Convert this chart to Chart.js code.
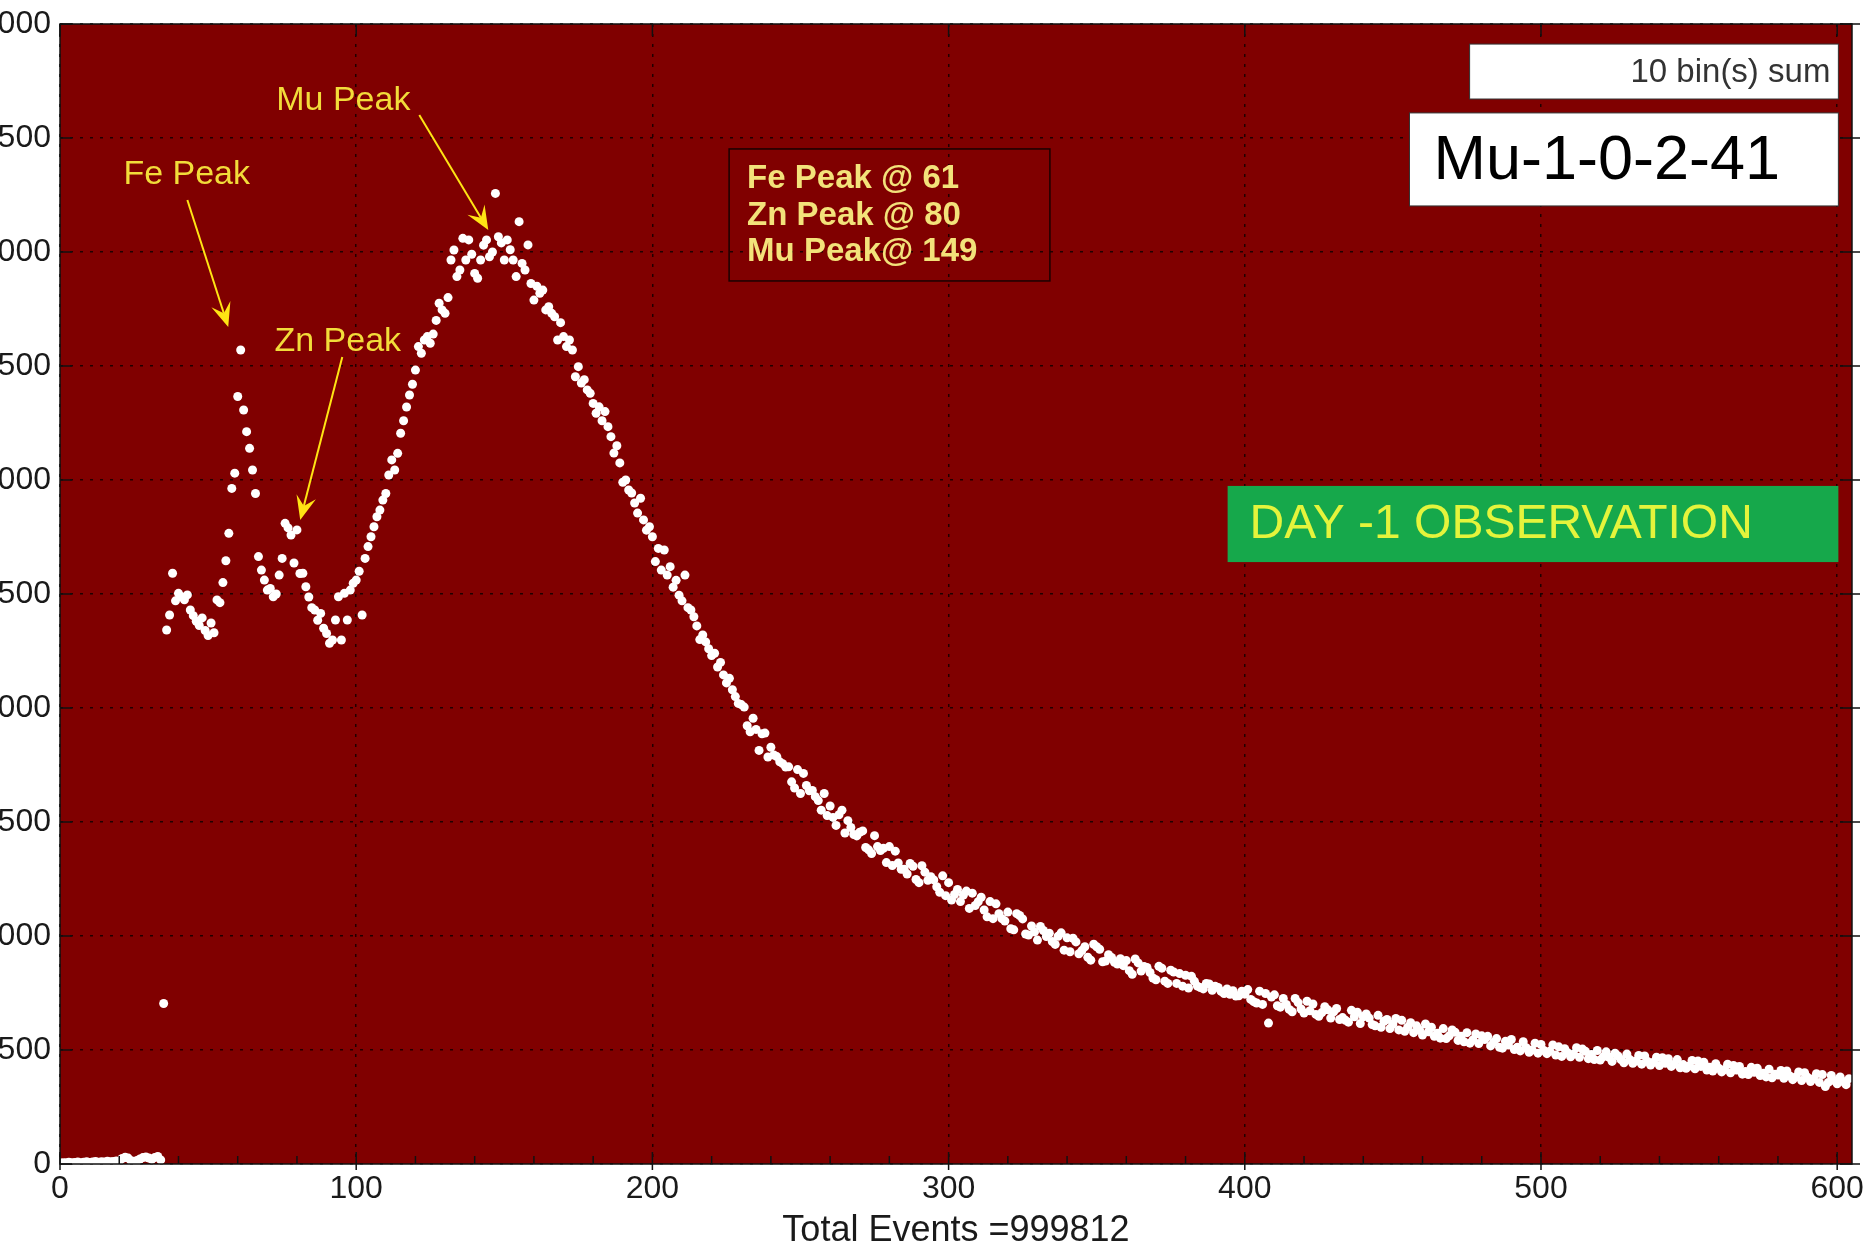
<!DOCTYPE html>
<html>
<head>
<meta charset="utf-8">
<script src="https://cdn.jsdelivr.net/npm/chart.js@4.4.0/dist/chart.umd.min.js"></script>
<style>
  html, body { margin: 0; padding: 0; background: #fff; overflow: hidden; }
  #wrap { position: relative; width: 1866px; height: 1251px; }
</style>
</head>
<body>
<div id="wrap"><canvas id="spectrum" width="1866" height="1251"></canvas></div>
<script>
// counts per channel (10 bins summed)
const floorCounts = [4, 6, 5, 8, 6, 7, 9, 6, 8, 10, 7, 9, 11, 8, 10, 9, 12, 10, 11, 13,
  12, 24, 30, 26, 14, 12, 15, 22, 28, 31, 26, 20, 29, 33, 18]; // ch 0-34
const feZnCounts = [
  704, 2342, 2408, 2591, 2470, 2503, 2488, 2475, 2496, 2430,
  2405, 2380, 2362, 2395, 2340, 2318, 2373, 2330, 2474, 2462,
  2550, 2646, 2766, 2963, 3030, 3366, 3570, 3307, 3212, 3139,
  3044, 2941, 2664, 2605, 2561, 2517, 2524, 2488, 2500, 2583,
  2656, 2810, 2790, 2759, 2636, 2781, 2590, 2591, 2532, 2487,
  2440, 2430, 2385, 2415, 2350, 2327, 2284, 2298, 2386, 2488,
  2298, 2503, 2386, 2517, 2547]; // ch 35-99
const muCounts = [
  2561, 2600, 2408, 2656, 2708, 2751, 2795, 2839, 2868, 2912,
  2941, 3022, 3088, 3044, 3117, 3205, 3260, 3320, 3373, 3420,
  3482, 3585, 3556, 3614, 3629, 3600, 3640, 3700, 3775, 3746,
  3731, 3800, 3965, 4009, 3892, 3921, 4060, 3965, 4053, 3990,
  3906, 3885, 3965, 4030, 4053, 3979, 4000, 4257, 4067, 4040,
  3965, 4053, 4010, 3965, 3892, 4133, 3950, 3921, 4031, 3862,
  3789, 3850, 3819, 3833, 3746, 3760, 3731, 3716, 3614, 3690,
  3629, 3585, 3614, 3570, 3453, 3497, 3425, 3440, 3395, 3380,
  3336, 3293, 3321, 3260, 3300, 3234, 3190, 3118, 3150, 3075,
  2990, 3000, 2956, 2943, 2899, 2855, 2920, 2825, 2780, 2795,
  2751, 2642, 2700, 2605, 2693, 2583, 2620, 2530, 2560, 2495,
  2470, 2583, 2440, 2430, 2400, 2360, 2300, 2320, 2290, 2260,
  2230, 2240, 2180, 2200, 2145, 2110, 2130, 2080, 2050, 2020]; // ch 100-229
const tailCounts = [
  2015, 2004, 1922, 1896, 1955, 1906, 1814, 1887, 1890, 1785,
  1828, 1794, 1787, 1764, 1756, 1741, 1742, 1676, 1649, 1730,
  1625, 1713, 1660, 1637, 1638, 1611, 1594, 1552, 1625, 1528,
  1570, 1520, 1485, 1532, 1552, 1452, 1506, 1476, 1445, 1439,
  1455, 1461, 1388, 1378, 1362, 1440, 1392, 1375, 1385, 1322,
  1392, 1309, 1372, 1320, 1293, 1293, 1272, 1318, 1306, 1248,
  1234, 1308, 1280, 1244, 1260, 1246, 1216, 1192, 1264, 1177,
  1234, 1158, 1182, 1204, 1151, 1180, 1197, 1121, 1188, 1134,
  1150, 1170, 1114, 1084, 1151, 1076, 1141, 1098, 1076, 1066,
  1105, 1032, 1027, 1098, 1090, 1075, 1009, 1004, 1044, 1018,
  982, 1042, 1024, 998, 1012, 976, 963, 999, 1014, 938,
  992, 931, 990, 974, 922, 936, 953, 907, 894, 964,
  953, 942, 887, 890, 918, 906, 885, 877, 900, 870,
  892, 848, 832, 899, 882, 846, 866, 862, 840, 816,
  808, 867, 859, 802, 792, 850, 842, 792, 835, 780,
  828, 772, 823, 801, 780, 774, 768, 792, 790, 762,
  780, 774, 757, 748, 768, 744, 760, 737, 738, 758]; // ch 230-399
const farTailCounts = [
  745, 765, 722, 712, 706, 758, 700, 748, 618, 732,
  742, 694, 688, 726, 700, 678, 668, 726, 708, 680,
  662, 714, 672, 702, 656, 648, 664, 690, 676, 640,
  668, 682, 634, 642, 630, 622, 674, 646, 666, 616,
  646, 658, 640, 612, 606, 652, 600, 626, 634, 594,
  614, 638, 588, 630, 582, 600, 620, 576, 606, 588,
  566, 614, 580, 600, 560, 574, 552, 594, 550, 562,
  588, 578, 542, 560, 536, 576, 530, 544, 570, 528,
  562, 546, 560, 518, 534, 550, 512, 508, 538, 522,
  546, 502, 512, 496, 536, 510, 490, 500, 530, 486,
  524, 498, 484, 494, 522, 478, 514, 472, 506, 488,
  470, 482, 510, 468, 504, 494, 462, 480, 458, 498,
  456, 470, 492, 468, 450, 486, 474, 458, 444, 482,
  458, 442, 452, 476, 438, 474, 450, 434, 446, 468,
  432, 466, 442, 462, 428, 438, 458, 422, 436, 420,
  430, 454, 418, 452, 428, 446, 412, 424, 408, 440,
  420, 404, 414, 438, 400, 432, 412, 428, 394, 406,
  392, 424, 402, 420, 388, 398, 382, 416, 378, 394,
  390, 410, 376, 408, 386, 370, 382, 404, 366, 400,
  380, 362, 374, 396, 358, 392, 340, 358, 388, 366,
  352, 382, 362, 348, 374]; // ch 400-604

const xTicks = [0, 100, 200, 300, 400, 500, 600];
const yTicks = [0, 500, 1000, 1500, 2000, 2500, 3000, 3500, 4000, 4500, 5000];
const xTitle = 'Total Events =999812';
const statsLines = ['Fe Peak @ 61', 'Zn Peak @ 80', 'Mu Peak@ 149'];
const binLabel = '10 bin(s) sum';
const runLabel = 'Mu-1-0-2-41';
const dayLabel = 'DAY -1 OBSERVATION';

// annotation placement in data units
const peakNotes = [
  { text: 'Mu Peak', at: [73, 4662], tail: [121.3, 4601], tip: [144.6, 4096] },
  { text: 'Fe Peak', at: [21.4, 4338], tail: [43.0, 4228], tip: [56.8, 3671] },
  { text: 'Zn Peak', at: [72.4, 3605], tail: [95.3, 3540], tip: [81.1, 2825] }
];
const boxes = {
  bins: { x0: 475.9, x1: 600.4, y0: 4912, y1: 4671 },
  run: { x0: 455.6, x1: 600.4, y0: 4610, y1: 4202 },
  stats: { x0: 225.9, x1: 334.2, y0: 4452, y1: 3873 },
  day: { x0: 394.2, x1: 600.4, y0: 2974, y1: 2640 }
};

const FONT = "'Liberation Sans', Arial, sans-serif";
const counts = [].concat(floorCounts, feZnCounts, muCounts, tailCounts, farTailCounts);
const points = counts.map((c, ch) => ({ x: ch, y: c }));

const plotBg = {
  id: 'plotBg',
  beforeDraw(chart) {
    const a = chart.chartArea, ctx = chart.ctx;
    ctx.save();
    ctx.fillStyle = '#800000';
    ctx.fillRect(a.left, a.top, a.right - a.left, a.bottom - a.top);
    ctx.restore();
  }
};

function arrow(ctx, x1, y1, x2, y2) {
  const ang = Math.atan2(y2 - y1, x2 - x1);
  const head = 24, wing = 10;
  const bx = x2 - Math.cos(ang) * head, by = y2 - Math.sin(ang) * head;
  const nx = x2 - Math.cos(ang) * head * 0.6, ny = y2 - Math.sin(ang) * head * 0.6;
  ctx.beginPath();
  ctx.moveTo(x1, y1);
  ctx.lineTo(nx, ny);
  ctx.stroke();
  ctx.beginPath();
  ctx.moveTo(x2, y2);
  ctx.lineTo(bx - Math.sin(ang) * wing, by + Math.cos(ang) * wing);
  ctx.lineTo(nx, ny);
  ctx.lineTo(bx + Math.sin(ang) * wing, by - Math.cos(ang) * wing);
  ctx.closePath();
  ctx.fill();
}

const overlay = {
  id: 'overlay',
  afterDatasetsDraw(chart) {
    const ctx = chart.ctx, a = chart.chartArea;
    const xs = chart.scales.x, ys = chart.scales.y;
    const px = v => xs.getPixelForValue(v), py = v => ys.getPixelForValue(v);
    ctx.save();

    // frame and ticks
    ctx.strokeStyle = '#111';
    ctx.lineWidth = 1.5;
    ctx.strokeRect(a.left, a.top, a.right - a.left, a.bottom - a.top);
    ctx.beginPath();
    xTicks.forEach(v => {
      const x = px(v);
      ctx.moveTo(x, a.bottom + 6); ctx.lineTo(x, a.bottom - 12);
      ctx.moveTo(x, a.top); ctx.lineTo(x, a.top + 12);
    });
    for (let v = 20; v < 605; v += 20) {
      const x = px(v);
      ctx.moveTo(x, a.bottom); ctx.lineTo(x, a.bottom - 8);
    }
    yTicks.forEach(v => {
      const y = py(v);
      ctx.moveTo(a.left, y); ctx.lineTo(a.left + 12, y);
      ctx.moveTo(a.right + 8, y); ctx.lineTo(a.right - 12, y);
    });
    ctx.stroke();

    // white legend boxes
    const rect = b => [px(b.x0), py(b.y0), px(b.x1) - px(b.x0), py(b.y1) - py(b.y0)];
    ctx.fillStyle = '#fff';
    ctx.strokeStyle = '#333';
    ctx.lineWidth = 1;
    [boxes.bins, boxes.run].forEach(b => {
      const r = rect(b);
      ctx.fillRect(...r);
      ctx.strokeRect(...r);
    });
    ctx.fillStyle = '#333';
    ctx.font = `33px ${FONT}`;
    ctx.textAlign = 'right';
    ctx.textBaseline = 'middle';
    ctx.fillText(binLabel, px(boxes.bins.x1) - 8, (py(boxes.bins.y0) + py(boxes.bins.y1)) / 2 + 1);
    ctx.fillStyle = '#000';
    ctx.font = `63px ${FONT}`;
    ctx.textAlign = 'left';
    ctx.fillText(runLabel, px(boxes.run.x0) + 24, (py(boxes.run.y0) + py(boxes.run.y1)) / 2 + 2);

    // peak statistics box
    const sr = rect(boxes.stats);
    ctx.strokeStyle = '#1a0000';
    ctx.lineWidth = 1.5;
    ctx.strokeRect(...sr);
    ctx.fillStyle = '#f3e27a';
    ctx.font = `bold 33px ${FONT}`;
    statsLines.forEach((t, i) => ctx.fillText(t, sr[0] + 18, sr[1] + 30 + i * 36.5));

    // green observation banner
    const dr = rect(boxes.day);
    ctx.fillStyle = '#16a84b';
    ctx.fillRect(...dr);
    ctx.fillStyle = '#e4f43c';
    ctx.font = `48px ${FONT}`;
    ctx.fillText(dayLabel, dr[0] + 22, dr[1] + dr[3] / 2 + 1);

    // peak labels and arrows
    ctx.font = `34px ${FONT}`;
    peakNotes.forEach(n => {
      ctx.fillStyle = '#f2dc3a';
      ctx.fillText(n.text, px(n.at[0]), py(n.at[1]));
      ctx.strokeStyle = '#ffe414';
      ctx.fillStyle = '#ffe414';
      ctx.lineWidth = 2;
      arrow(ctx, px(n.tail[0]), py(n.tail[1]), px(n.tip[0]), py(n.tip[1]));
    });
    ctx.restore();
  }
};

const tickFont = { family: FONT, size: 32 };

new Chart(document.getElementById('spectrum'), {
  type: 'scatter',
  data: {
    datasets: [{
      label: 'counts',
      data: points,
      pointRadius: 4.5,
      pointHoverRadius: 4.5,
      pointBorderWidth: 0,
      pointBackgroundColor: '#ffffff',
      clip: 0
    }]
  },
  options: {
    responsive: false,
    animation: false,
    layout: { padding: { top: 24, right: 14, left: 0, bottom: 0 } },
    plugins: { legend: { display: false }, tooltip: { enabled: false } },
    scales: {
      x: {
        type: 'linear',
        min: 0,
        max: 605,
        afterBuildTicks: s => { s.ticks = xTicks.map(v => ({ value: v })); },
        afterFit: s => { s.height = 87; s.paddingLeft = 0; s.paddingRight = 0; },
        ticks: { font: tickFont, color: '#1a1a1a', padding: 6, maxRotation: 0 },
        grid: { color: 'rgba(0,0,0,0.75)', lineWidth: 1.5, drawTicks: false },
        border: { display: false, dash: [3, 7] },
        title: {
          display: true,
          text: xTitle,
          color: '#1a1a1a',
          font: { family: FONT, size: 36, lineHeight: 1.1 },
          padding: { top: 0, bottom: 0 }
        }
      },
      y: {
        min: 0,
        max: 5000,
        afterBuildTicks: s => { s.ticks = yTicks.map(v => ({ value: v })); },
        afterFit: s => { s.width = 60; s.paddingTop = 0; s.paddingBottom = 0; },
        ticks: { font: tickFont, color: '#1a1a1a', padding: 9 },
        grid: { color: 'rgba(0,0,0,0.75)', lineWidth: 1.5, drawTicks: false },
        border: { display: false, dash: [3, 7] }
      }
    }
  },
  plugins: [plotBg, overlay]
});
</script>
</body>
</html>
